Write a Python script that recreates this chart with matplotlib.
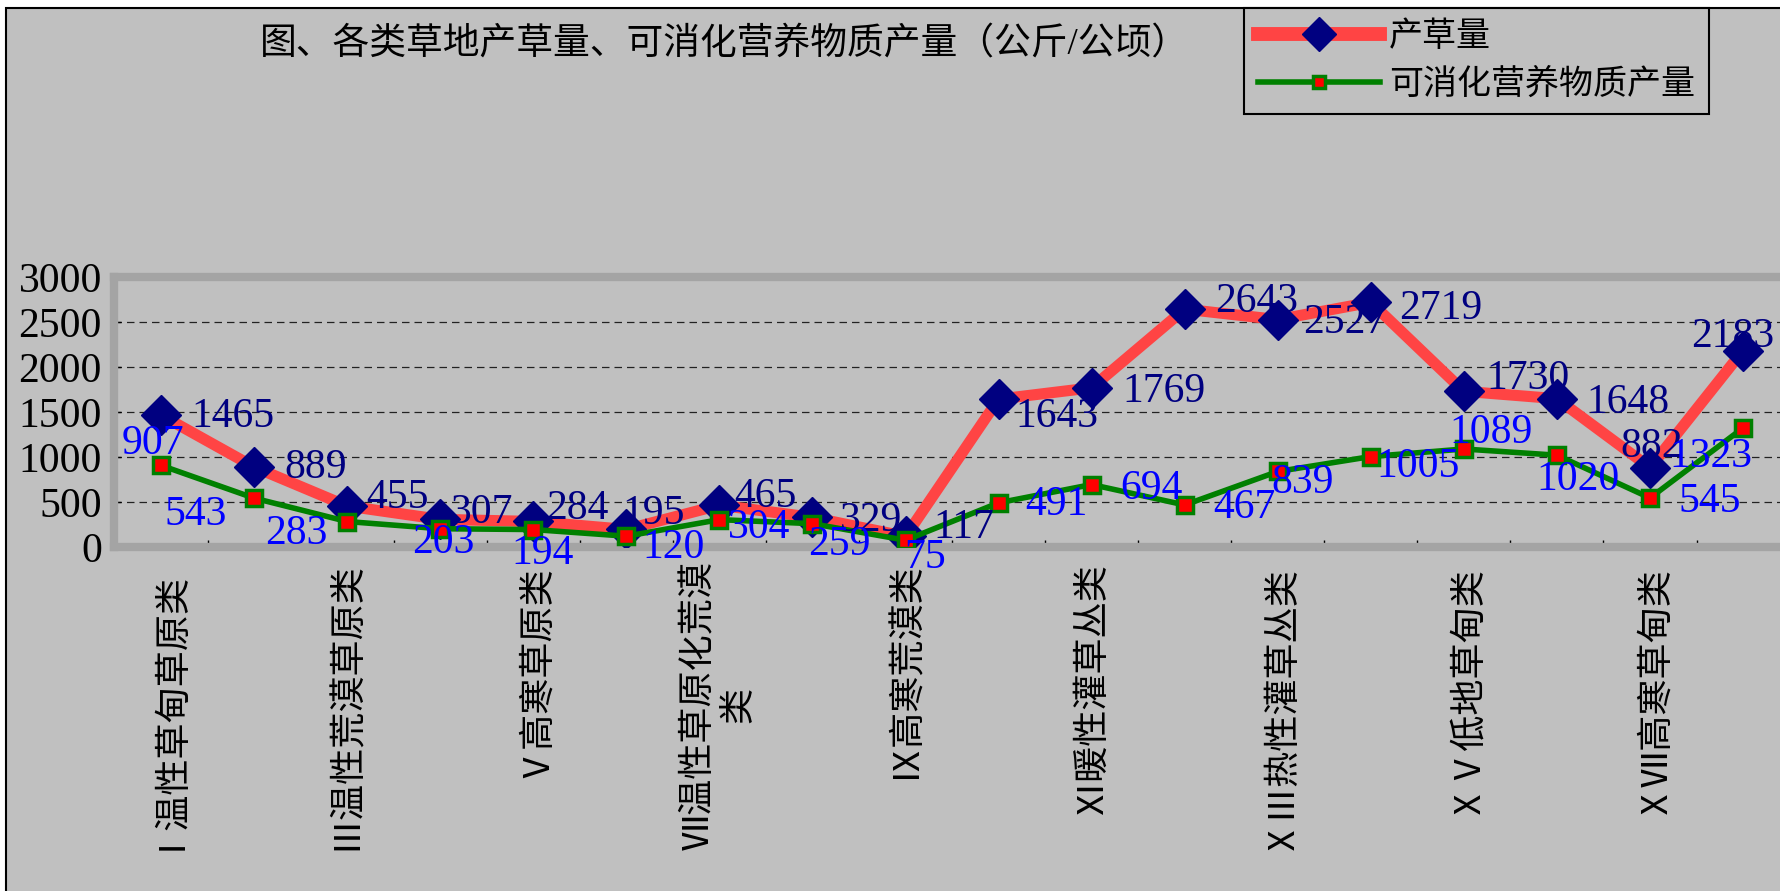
import matplotlib
matplotlib.use("Agg")
import matplotlib.pyplot as plt
from matplotlib.patches import Rectangle
import numpy as np

plt.rcParams['font.family'] = ['Liberation Serif', 'Noto Sans CJK SC', 'DejaVu Sans']

# 各类草地 (18 类)
categories = ["Ⅰ温性草甸草原类", "Ⅱ温性草原类", "Ⅲ温性荒漠草原类", "Ⅳ高寒草甸草原类",
              "Ⅴ高寒草原类", "Ⅵ高寒荒漠草原类", "Ⅶ温性草原化荒漠类", "Ⅷ温性荒漠类",
              "Ⅸ高寒荒漠类", "Ⅹ暖性草丛类", "Ⅺ暖性灌草丛类", "Ⅻ热性草丛类",
              "ⅩⅢ热性灌草丛类", "ⅩⅣ干热稀树灌草丛类", "ⅩⅤ低地草甸类", "ⅩⅥ山地草甸类",
              "ⅩⅦ高寒草甸类", "ⅩⅧ沼泽类"]
grass_yield = [1465, 889, 455, 307, 284, 195, 465, 329, 117, 1643,
               1769, 2643, 2527, 2719, 1730, 1648, 882, 2183]
digestible = [907, 543, 283, 203, 194, 120, 304, 259, 75, 491,
              694, 467, 839, 1005, 1089, 1020, 545, 1323]
yticks = [0, 500, 1000, 1500, 2000, 2500, 3000]

# label offsets (pixels, x right / y up) as placed in the original chart
red_off = [(72, -2), (62, -1), (50, 8), (42, 7), (44, 13), (27, 16), (46, 8), (59, -3), (58, 9),
           (58, -18), (72, -4), (72, 7), (67, -3), (70, -6), (64, 13), (71, -4), (2, 21), (-10, 14)]
green_off = [(-8, 22), (-58, -17), (-51, -12), (3, -14), (9, -24), (47, -12), (40, -8), (27, -21),
             (20, -17), (58, -2), (60, -4), (60, -3), (25, -11), (47, -10), (27, 16), (21, -25),
             (60, -4), (-32, -29)]

W, H = 1781, 891
fig = plt.figure(figsize=(W / 100, H / 100), dpi=100, facecolor='white')
bg = Rectangle((6 / W, -0.1), 1.2, 1 - 8 / H + 0.1, transform=fig.transFigure,
               facecolor='#c0c0c0', edgecolor='black', linewidth=1.5, zorder=-10)
fig.add_artist(bg)

left = 114.5 / W
width = 18 * 93.06 / W
bottom = 1 - 547 / H
height = 270 / H
ax = fig.add_axes([left, bottom, width, height])
ax.set_facecolor('#c0c0c0')

x = np.arange(len(categories))
ax.plot(x, grass_yield, color='#ff4444', linewidth=8, marker='D', markersize=20,
        markerfacecolor='#000080', markeredgecolor='#000080', label='产草量', zorder=3)
ax.plot(x, digestible, color='#008000', linewidth=4, marker='s', markersize=11,
        markerfacecolor='#ff0000', markeredgecolor='#008000', markeredgewidth=2.5,
        label='可消化营养物质产量', zorder=4)

for i, v in enumerate(grass_yield):
    ax.annotate(str(v), (i, v), xytext=red_off[i], textcoords='offset pixels',
                ha='center', va='center', fontsize=30, color='#000080', zorder=6)
for i, v in enumerate(digestible):
    ax.annotate(str(v), (i, v), xytext=green_off[i], textcoords='offset pixels',
                ha='center', va='center', fontsize=30, color='#0000ff', zorder=6)

ax.set_xlim(-0.5, len(categories) - 0.5)
ax.set_ylim(0, 3000)
ax.set_yticks(yticks)
ax.set_yticklabels([str(t) for t in yticks], fontsize=30)
for t in yticks[1:-1]:
    ax.axhline(t, color='#222222', linewidth=0.9, linestyle=(0, (6, 4)), zorder=1)

# only every other category label is shown, long ones wrap after 8 chars
shown = []
for i, name in enumerate(categories):
    if i % 2:
        shown.append('')
    elif len(name) > 8:
        shown.append(name[:8] + '\n' + name[8:])
    else:
        shown.append(name)
ax.set_xticks(x)
ax.set_xticklabels(shown, rotation=90, fontsize=26, va='top', ha='center')
for lbl in ax.get_xticklabels():
    lbl.set_multialignment('center')
ax.set_xticks(np.arange(0.5, len(categories) - 0.5, 1), minor=True)
ax.tick_params(axis='x', which='major', length=0, pad=10)
ax.tick_params(axis='x', which='minor', direction='in', length=5, width=1, color='black')
ax.tick_params(axis='y', direction='in', length=5, width=1, color='black', pad=9)

for s in ax.spines.values():
    s.set_color('#a4a4a4')
    s.set_linewidth(6)
ax.axhline(0, color='black', linewidth=1.5, zorder=2, clip_on=False)
ax.axvline(-0.5, color='#404040', linewidth=2, zorder=2, clip_on=False)

fig.text(724 / W, 1 - 45 / H, '图、各类草地产草量、可消化营养物质产量（公斤/公顷）',
         ha='center', va='center', fontsize=26.5)

leg = fig.legend(loc='upper left', bbox_to_anchor=(1244 / W, 1 - 8 / H), borderaxespad=0,
                 fontsize=24.5, handlelength=3.6, handletextpad=0.26, borderpad=0.4,
                 labelspacing=0.45, numpoints=1, markerscale=0.85, fancybox=False,
                 edgecolor='black', facecolor='#c0c0c0', framealpha=1)
leg.get_frame().set_linewidth(1.5)
leg.get_lines()[0].set_linewidth(10)

fig.savefig('out.png', dpi=100, facecolor=fig.get_facecolor())
